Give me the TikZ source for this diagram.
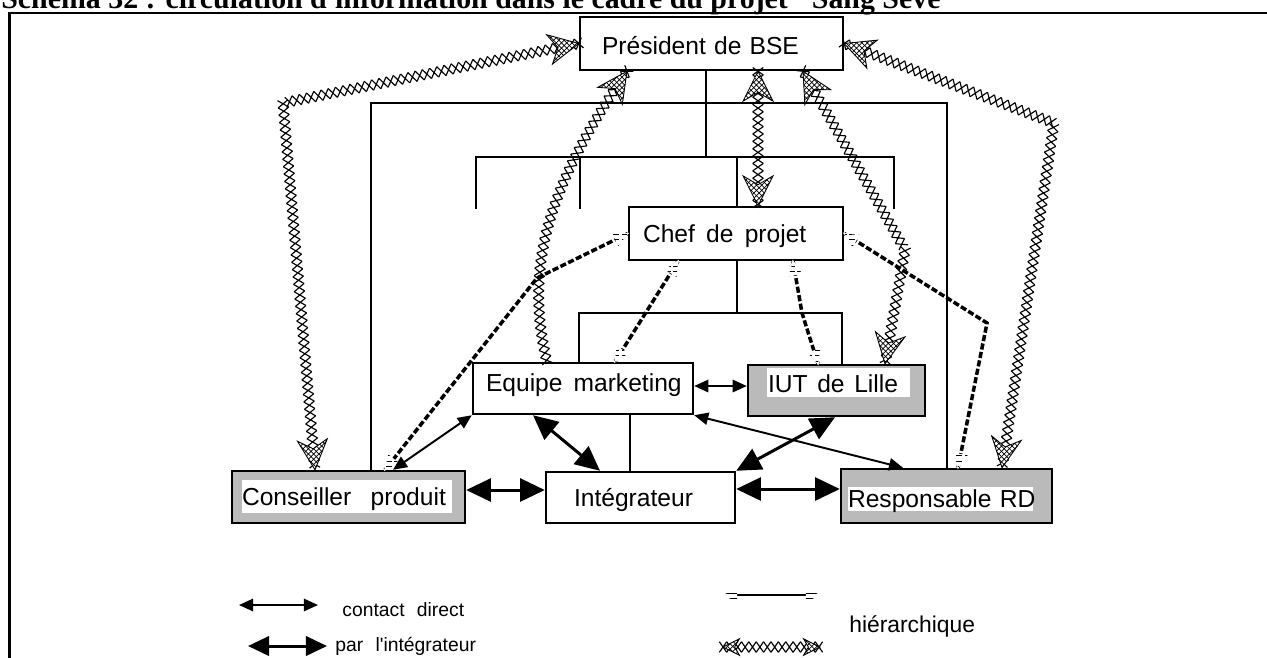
\documentclass[tikz,border=0pt]{standalone}
\usepackage{fontspec}
\setmainfont{Liberation Sans}
\newfontfamily\titlefont{Liberation Serif}
\usetikzlibrary{arrows.meta,decorations.markings,patterns,calc}

\newcommand\xheadshape[2]{%
  \begin{scope}[xscale=#1,scale=#2]
    \filldraw[fill=white,line width=0.5pt,solid] (0pt,0pt) -- (-17pt,8.5pt) -- (-12pt,0pt) -- (-17pt,-8.5pt) -- cycle;
    \fill[pattern=crosshatch] (0pt,0pt) -- (-17pt,8.5pt) -- (-12pt,0pt) -- (-17pt,-8.5pt) -- cycle;
  \end{scope}}
\newcommand\eqheadshape[1]{%
  \begin{scope}[xscale=#1]
    \fill[white] (1pt,0pt) -- (-8pt,4pt) -- (-8pt,-4pt) -- cycle;
    \fill[pattern=horizontal lines] (0pt,0pt) -- (-8pt,4pt) -- (-8pt,-4pt) -- cycle;
  \end{scope}}

\tikzset{
  box/.style={draw, line width=1.4pt, fill=white, inner xsep=0pt, inner ysep=0pt,
    align=left, text height=10pt, text depth=0pt, font=\fontsize{14}{16}\selectfont},
  shadedbox/.style n args={4}{box, fill=black!27,
    path picture={\fill[white] ($(path picture bounding box.south west)+(#1cm,#4cm)$)
      rectangle ($(path picture bounding box.north east)+(-#2cm,-#3cm)$);}},
  tree/.style={line width=1.1pt},
  direct/.style={line width=1.1pt, <->, >={Triangle[length=8pt,width=7pt]}},
  viaint/.style={line width=1.7pt, <->, >={Triangle[length=14pt,width=13pt]}},
  eqline/.style={line width=2pt, dash pattern=on 3.5pt off 1.4pt,
    postaction={decorate, decoration={markings,
      mark=at position 0 with {\eqheadshape{-1}},
      mark=at position 1 with {\eqheadshape{1}}}}},
  xchain/.style={
    postaction={decorate, decoration={markings,
      mark=between positions 0 and 1 step 4.2pt with
        {\draw[line width=0.65pt,solid] (-2.1pt,-3pt) -- (2.1pt,3pt) (-2.1pt,3pt) -- (2.1pt,-3pt);}}},
    postaction={decorate, decoration={markings,
      mark=at position 0 with {\xheadshape{-1}{#1}},
      mark=at position 1 with {\xheadshape{1}{#1}}}}},
  xchain/.default=1,
  legendtext/.style={anchor=base west, inner sep=0pt, font=\fontsize{11}{13}\selectfont}
}

\begin{document}
\begin{tikzpicture}[x=0.02cm,y=-0.02cm]
\useasboundingbox (0,0) rectangle (1267,657);

% title (cut by the page top, as in the scan) and frame
\node[anchor=base west, inner sep=0pt, font=\titlefont\bfseries\fontsize{17}{19}\selectfont] (title) at (1,8)
  {Schéma 32 : circulation d'information dans le cadre du projet "Sang Seve"};
\draw[line width=1.2pt] (9.5,700) -- (9.5,13) -- (1300,13);

% boxes
\node[box, minimum width=5.26cm, text width=5.26cm, minimum height=1.06cm, text height=12.8pt]
  (pres) at (711.5,43.5) {\hspace*{0.44cm}Président de BSE};
\node[box, minimum width=4.28cm, text width=4.28cm, minimum height=1.06cm]
  (chef) at (736,233.5) {\hspace*{0.28cm}Chef\hspace{6.4pt}de\hspace{6.4pt}projet};
\node[box, minimum width=4.4cm, text width=4.4cm, minimum height=1.02cm, text depth=6.4pt]
  (equipe) at (583,388.5) {\hspace*{0.26cm}Equipe\hspace{6.3pt}marketing};
\node[shadedbox={0.38}{0.3}{0.06}{0.38}, minimum width=3.54cm, text width=3.54cm, minimum height=1.02cm, text depth=7.8pt]
  (iut) at (836.5,390.5) {\hspace*{0.4cm}IUT\hspace{5.5pt}de\hspace{5.5pt}Lille};
\node[shadedbox={0.2}{0.26}{0.18}{0.2}, minimum width=4.66cm, text width=4.66cm, minimum height=1.04cm]
  (cons) at (348.5,497) {\hspace*{0.2cm}Conseiller\hspace{11pt}produit};
\node[box, minimum width=3.78cm, text width=3.78cm, minimum height=1.02cm]
  (integ) at (640.5,497.5) {\hspace*{0.56cm}Intégrateur};
\node[shadedbox={0.14}{0.38}{0.36}{0.24}, minimum width=4.22cm, text width=4.22cm, minimum height=1.08cm, text height=13.6pt]
  (resp) at (946.5,496) {\hspace*{0.14cm}Responsable RD};

% organisation chart lines
\draw[tree] (371,0 |- cons.north) -- (371,103) -- (947,103) -- (947,0 |- resp.north);
\draw[tree] (706,0 |- pres.south) -- (706,157);
\draw[tree] (476,209) -- (476,157) -- (894,157) -- (894,209);
\draw[tree] (580,157) -- (580,209);
\draw[tree] (737,157) -- (737,0 |- chef.north);
\draw[tree] (737,0 |- chef.south) -- (737,313);
\draw[tree] (579,0 |- equipe.north) -- (579,313) -- (842,313) -- (842,0 |- iut.north);
\draw[tree] (630,0 |- equipe.south) -- (630,0 |- integ.north);

% hierarchical links from the Chef de projet
\draw[eqline] (chef.west) -- (537,278) -- (385,0 |- cons.north);
\draw[eqline] (678,0 |- chef.south) -- (615,0 |- equipe.north);
\draw[eqline] (793,0 |- chef.south) -- (802,313) -- (818,0 |- iut.north);
\draw[eqline] (chef.east) -- (987,323) -- (958,0 |- resp.north);

% direct contacts
\draw[direct] (equipe.east |- 0,386) -- (iut.west |- 0,386);
\draw[direct] (393,0 |- cons.north) -- (equipe.south west);
\draw[direct] (equipe.south east) -- (903,0 |- resp.north);

% contacts through the integrator
\draw[viaint] (533,0 |- equipe.south) -- (600,0 |- integ.north);
\draw[viaint] (integ.north east) -- (835,0 |- iut.south);
\draw[viaint] (cons.east |- 0,490) -- (integ.west |- 0,490);
\draw[viaint] (integ.east |- 0,489) -- (resp.west |- 0,489);

% hierarchical links from the President
\path[xchain] (pres.west) -- (283,103) -- (315,0 |- cons.north);
\path[xchain] (627,0 |- pres.south) .. controls (545,190) and (525,270) .. (547,0 |- equipe.north);
\path[xchain] (758,0 |- pres.south) -- (758,0 |- chef.north);
\path[xchain] (803,0 |- pres.south) -- (905,250) -- (885,0 |- iut.north);
\path[xchain] (pres.east) -- (1054,123) -- (1002,0 |- resp.north);

% legend
\coordinate (cda) at (239,605); \coordinate (cdb) at (318,605);
\draw[direct] (cda) -- (cdb);
\node[legendtext] (cdtxt) at (342,616) {contact\hspace{7pt}direct};
\coordinate (pia) at (248,646); \coordinate (pib) at (327,646);
\draw[viaint, >={Triangle[length=12pt,width=11pt]}] (pia) -- (pib);
\node[legendtext] (pitxt) at (335,651) {par\hspace{7pt}l\textquotesingle intégrateur};
\coordinate (hea) at (723,595); \coordinate (heb) at (820,595);
\draw[eqline, solid, line width=0.9pt] (hea) -- (heb);
\coordinate (hxa) at (723,647); \coordinate (hxb) at (820,647);
\path[xchain=0.55] (hxa) -- (hxb);
\node[legendtext, font=\fontsize{13}{15}\selectfont] (htxt) at (849,632) {hiérarchique};
\end{tikzpicture}
\end{document}
